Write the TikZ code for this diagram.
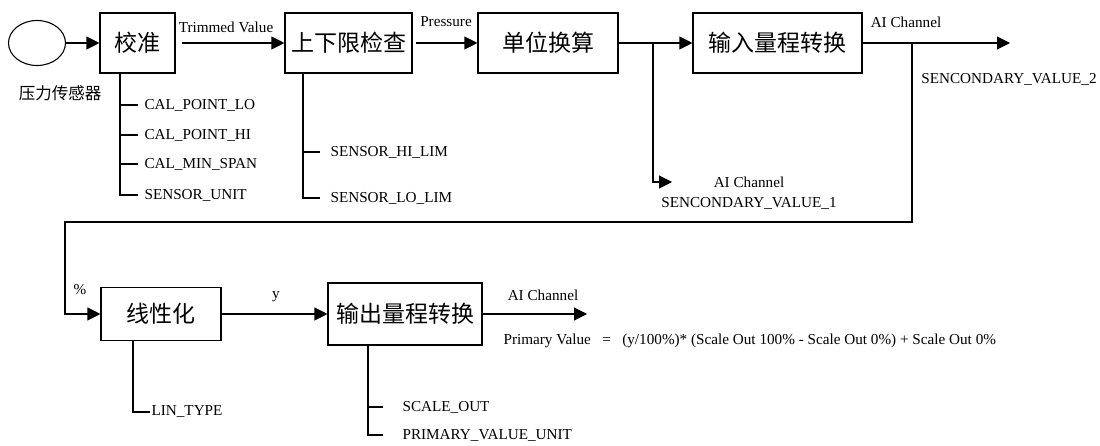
\documentclass[tikz,border=0pt]{standalone}
\usepackage{fontspec}
\setmainfont{Liberation Serif}
\newfontfamily\cjk{Noto Sans CJK SC}
\usepackage{tikz}
\usetikzlibrary{arrows.meta,positioning,shapes.geometric}

\begin{document}
\begin{tikzpicture}[x=1pt,y=-1pt,line width=1.1pt,draw=black,
  >={Triangle[length=13pt,width=13pt]}]
\tikzstyle{block}=[draw,rectangle,minimum height=60pt,inner sep=0pt,font=\cjk\fontsize{23}{26}\selectfont]
\tikzstyle{sig}=[font=\fontsize{15.2}{17}\selectfont,inner sep=1pt]
\tikzstyle{param}=[sig,anchor=west]
\useasboundingbox (0,0) rectangle (1100,446);

% Draw the upper row
\node[draw,ellipse,minimum width=57pt,minimum height=45pt] (sensor) at (37,43) {};
\node[font=\cjk\fontsize{16.5}{18}\selectfont] (sensorname) at (60,93) {压力传感器};
\node[block,minimum width=75pt] (cal) at (137.5,43) {校准};
\node[block,minimum width=127pt] (lim) at (348.5,43) {上下限检查};
\node[block,minimum width=140pt] (unit) at (548,43) {单位换算};
\node[block,minimum width=169pt] (inrange) at (777.5,43) {输入量程转换};

% Draw the lower row
\node[block,minimum width=120pt,minimum height=53pt] (lin) at (161,314) {线性化};
\node[block,minimum width=154pt,minimum height=62pt] (outrange) at (405,314) {输出量程转换};

% Signal labels
\node[sig] (trim) at (226,27) {Trimmed Value};
\node[sig] (press) at (446,22) {Pressure};
\node[sig] (ai2) at (906,22) {AI Channel};
\node[sig] (sv2) at (1009,79) {SENCONDARY\_VALUE\_2};
\node[sig] (ai1) at (749,182) {AI Channel};
\node[sig] (sv1) at (749,203) {SENCONDARY\_VALUE\_1};
\node[sig] (pct) at (80,290) {\%};
\node[sig] (yl) at (276,297) {y};
\node[sig] (ai3) at (543,295) {AI Channel};
\node[sig,anchor=west] (formula) at (502,341) {Primary Value \ \ = \ \ (y/100\%)* (Scale Out 100\% - Scale Out 0\%) + Scale Out 0\%};

% Free ends and taps
\coordinate (out2) at (1010,43);
\coordinate (out1) at (672,182);
\coordinate (out3) at (587,314);
\coordinate (tap1) at (653,43);
\coordinate (tap2) at (912,43);
\coordinate (back) at (65,222);

% Connect the blocks
\draw[->] (sensor) -- (cal);
\draw[->,shorten <=6pt] (cal) -- (lim);
\draw[->,shorten <=3pt] (lim) -- (unit);
\draw[->] (unit) -- (inrange);
\draw[->] (inrange) -- (out2);
\draw[->] (tap1) |- (out1);
\draw[->] (tap2) |- (back) |- (lin.west);
\draw[->] (lin) -- (outrange);
\draw[->] (outrange) -- (out3);

% Parameters of each block
\coordinate (cal-bus) at (120,73);
\foreach \name/\y [count=\i] in {CAL\_POINT\_LO/105,CAL\_POINT\_HI/135,CAL\_MIN\_SPAN/164,SENSOR\_UNIT/195}
{
\node[param] (cal-p\i) at (143,\y) {\name};
\draw[shorten >=5pt] (cal-bus) |- (cal-p\i.west);
}

\coordinate (lim-bus) at (303,73);
\foreach \name/\y [count=\i] in {SENSOR\_HI\_LIM/152,SENSOR\_LO\_LIM/198}
{
\node[param] (lim-p\i) at (329,\y) {\name};
\draw[shorten >=9pt] (lim-bus) |- (lim-p\i.west);
}

\node[param] (lin-p1) at (150,412) {LIN\_TYPE};
\draw (lin.south -| 133,0) |- (lin-p1.west);

\coordinate (out-bus) at (368,345);
\foreach \name/\y [count=\i] in {SCALE\_OUT/407,PRIMARY\_VALUE\_UNIT/435}
{
\node[param] (out-p\i) at (401,\y) {\name};
\draw[shorten >=18pt] (out-bus) |- (out-p\i.west);
}
\end{tikzpicture}
\end{document}
